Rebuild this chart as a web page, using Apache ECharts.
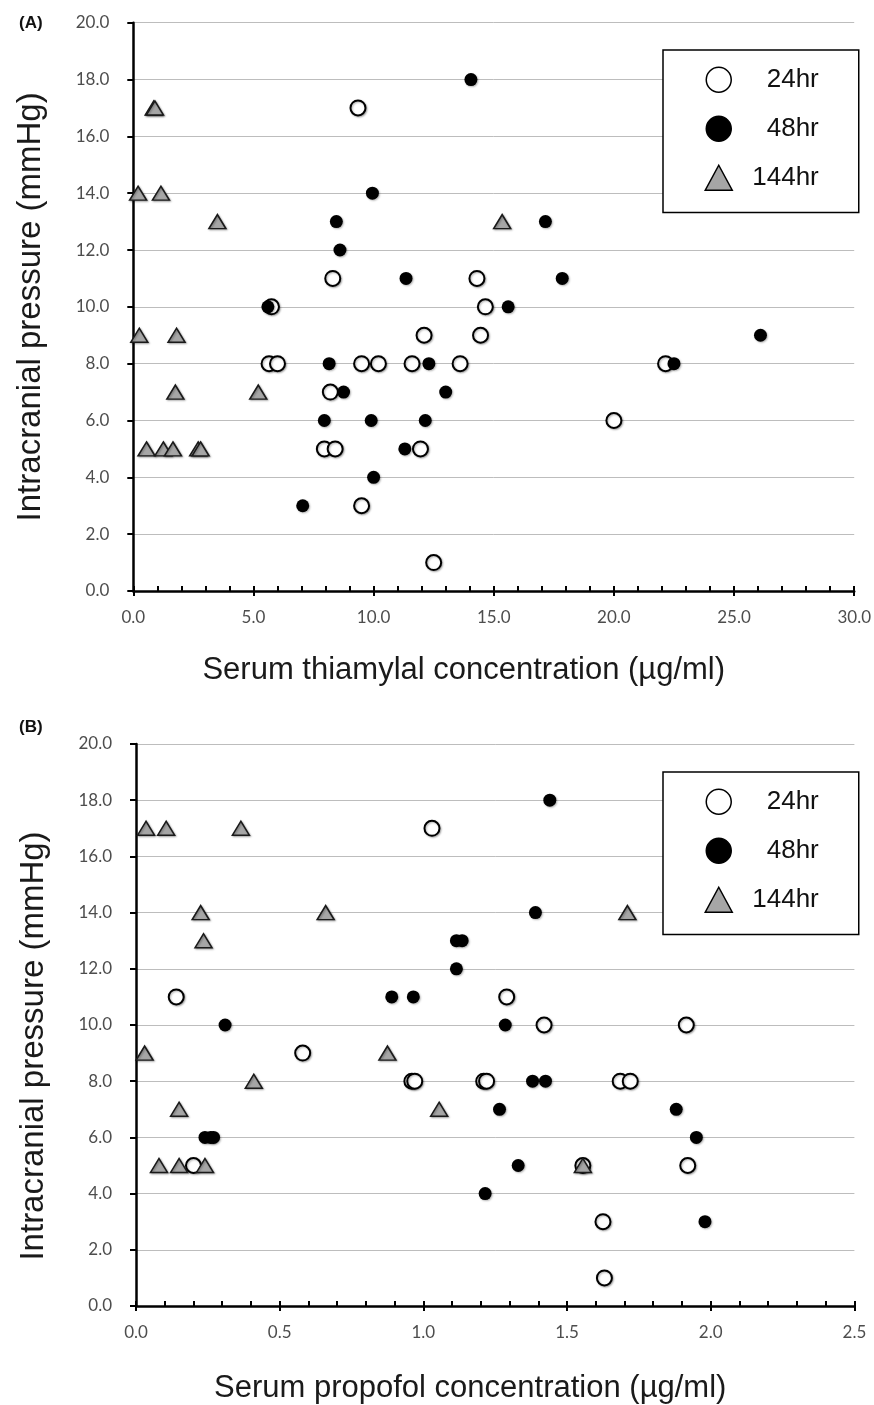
<!DOCTYPE html>
<html>
<head>
<meta charset="utf-8">
<script src="https://cdn.jsdelivr.net/npm/echarts@6/dist/echarts.min.js"></script>
<style>
  html, body { margin: 0; padding: 0; background: #fff; }
  #main { width: 874px; height: 1405px; }
</style>
</head>
<body>
<div id="main"></div>
<script type="text/javascript">
  // (A) thiamylal  [concentration, ICP]
  var thi24 = [[9.35,17],[8.3,11],[14.3,11],[14.65,10],[5.75,10],[12.1,9],[14.45,9],[5.65,8],[6.0,8],[9.5,8],
               [10.2,8],[11.6,8],[13.6,8],[22.15,8],[8.2,7],[20.0,6],[7.95,5],[8.4,5],[11.95,5],[9.5,3],[12.5,1]];
  var thi48 = [[14.05,18],[9.95,14],[8.45,13],[17.15,13],[8.6,12],[11.35,11],[17.85,11],[5.6,10],[15.6,10],[26.1,9],
               [8.15,8],[12.3,8],[22.5,8],[8.75,7],[13.0,7],[7.95,6],[9.9,6],[12.15,6],[11.3,5],[10.0,4],[7.05,3]];
  var thi144 = [[0.85,17],[0.9,17],[0.2,14],[1.15,14],[3.5,13],[15.35,13],[0.25,9],[1.8,9],[1.75,7],[5.2,7],
                [0.55,5],[1.25,5],[1.65,5],[2.7,5],[2.8,5]];

  // (B) propofol
  var pro24 = [[1.03,17],[0.14,11],[1.29,11],[1.42,10],[1.915,10],[0.58,9],[0.96,8],[0.97,8],[1.21,8],[1.22,8],
               [1.685,8],[1.72,8],[0.2,5],[1.555,5],[1.92,5],[1.625,3],[1.63,1]];
  var pro48 = [[1.44,18],[1.39,14],[1.115,13],[1.135,13],[1.115,12],[0.89,11],[0.965,11],[0.31,10],[1.285,10],[1.38,8],
               [1.425,8],[1.265,7],[1.88,7],[0.24,6],[0.26,6],[0.27,6],[1.95,6],[1.33,5],[1.215,4],[1.98,3]];
  var pro144 = [[0.035,17],[0.105,17],[0.365,17],[0.225,14],[0.66,14],[1.71,14],[0.235,13],[0.03,9],[0.875,9],[0.41,8],
                [0.15,7],[1.055,7],[0.08,5],[0.15,5],[0.24,5],[1.555,5]];

  var groups = ['24hr', '48hr', '144hr'];
  var xNames = ['Serum thiamylal concentration (µg/ml)', 'Serum propofol concentration (µg/ml)'];
  var yName = 'Intracranial pressure (mmHg)';

  var sans = '"Liberation Sans", Arial, sans-serif';
  var tickFont = 'Lato, "Open Sans", sans-serif';

  function withShadow(o) {
    o.opacity = 1;
    o.shadowBlur = 2; o.shadowOffsetX = 1; o.shadowOffsetY = 1; o.shadowColor = 'rgba(0,0,0,0.3)';
    return o;
  }

  var styles = {
    '24hr': {symbol: 'circle', symbolSize: 15, itemStyle: withShadow({color: '#fff', borderColor: '#000', borderWidth: 2})},
    '48hr': {symbol: 'circle', symbolSize: 13, itemStyle: withShadow({color: '#000', borderColor: '#000', borderWidth: 0})},
    '144hr': {symbol: 'triangle', symbolSize: [17, 14], itemStyle: withShadow({color: '#a6a6a6', borderColor: '#1a1a1a', borderWidth: 1.5})}
  };

  var grids = [
    {left: 133.3, top: 22.7, width: 725, height: 568.3},
    {left: 136, top: 744, width: 718.4, height: 565}
  ];
  var xRange = [{max: 30, interval: 5}, {max: 2.5, interval: 0.5}];
  var xGap = [64, 67];
  var xShift = [60, 50];   // titles sit a bit left of the plot centre
  var yShift = [0, 42];    // (B) y title sits a bit lower

  var xAxes = [], yAxes = [], series = [], legends = [];
  [0, 1].forEach(function (g) {
    // main x axis: major + minor ticks inside
    xAxes.push({
      gridIndex: g, type: 'value', position: 'bottom', min: 0, max: xRange[g].max, interval: xRange[g].interval,
      name: xNames[g], nameLocation: 'middle', nameGap: xGap[g],
      nameTextStyle: {fontFamily: sans, fontSize: 31, color: '#1a1a1a', padding: [0, xShift[g], 0, 0]},
      axisLine: {lineStyle: {color: '#000', width: 2.5}},
      axisTick: {inside: true, length: 5, lineStyle: {color: '#000', width: 2}},
      minorTick: {show: true, splitNumber: 5, length: 5, lineStyle: {color: '#000', width: 2}},
      axisLabel: {margin: 18, fontFamily: tickFont, fontSize: 17, color: '#4d4d4d',
                  formatter: function (v) { return v.toFixed(1); }},
      splitLine: {show: false}
    });
    // second x axis only for the outward part of the major ticks
    xAxes.push({
      gridIndex: g, type: 'value', position: 'bottom', offset: 0, min: 0, max: xRange[g].max, interval: xRange[g].interval,
      axisLine: {show: false}, axisLabel: {show: false}, splitLine: {show: false},
      axisTick: {inside: false, length: 5, lineStyle: {color: '#000', width: 2}}
    });
    yAxes.push({
      gridIndex: g, type: 'value', min: 0, max: 20, interval: 2,
      name: yName, nameLocation: 'middle', nameGap: 86, nameRotate: 90,
      nameTextStyle: {fontFamily: sans, fontSize: 33, color: '#1a1a1a', padding: [0, yShift[g], 0, 0]},
      axisLine: {show: true, lineStyle: {color: '#000', width: 2.5}},
      axisTick: {show: true, length: 6, lineStyle: {color: '#000', width: 2}},
      axisLabel: {margin: 24, fontFamily: tickFont, fontSize: 17, color: '#4d4d4d',
                  formatter: function (v) { return v.toFixed(1); }},
      splitLine: {show: true, lineStyle: {color: '#bdbdbd', width: 1}}
    });
    var sets = g === 0 ? [thi24, thi48, thi144] : [pro24, pro48, pro144];
    groups.forEach(function (name, i) {
      series.push({
        name: name, type: 'scatter', xAxisIndex: g * 2, yAxisIndex: g,
        symbol: styles[name].symbol, symbolSize: styles[name].symbolSize,
        itemStyle: styles[name].itemStyle, data: sets[i], z: 3 + i
      });
    });
    legends.push({
      orient: 'vertical', left: 663, top: g === 0 ? 50 : 772,
      padding: [16.5, 40, 21.5, 41.5], itemWidth: 27, itemHeight: 25, itemGap: 22.5,
      borderColor: '#000', borderWidth: 1.5, backgroundColor: '#fff', borderRadius: 0,
      selectedMode: false,
      data: groups.map(function (name) {
        return {name: name, icon: styles[name].symbol,
                itemStyle: {color: styles[name].itemStyle.color, borderColor: '#000', borderWidth: 1.5,
                            opacity: 1, shadowBlur: 0, shadowOffsetX: 0, shadowOffsetY: 0}};
      }),
      formatter: '{t|{name}}',
      textStyle: {rich: {t: {width: 81.5, align: 'right', fontFamily: sans, fontSize: 26, lineHeight: 25, color: '#111'}}}
    });
  });

  var myChart = echarts.init(document.getElementById('main'), null, {renderer: 'canvas'});
  myChart.setOption({
    animation: false,
    backgroundColor: '#fff',
    title: [
      {text: '(A)', left: 14, top: 10, textStyle: {fontFamily: sans, fontSize: 17, fontWeight: 'bold', color: '#111'}},
      {text: '(B)', left: 14, top: 714, textStyle: {fontFamily: sans, fontSize: 17, fontWeight: 'bold', color: '#111'}}
    ],
    grid: grids,
    xAxis: xAxes,
    yAxis: yAxes,
    legend: legends,
    series: series
  });
</script>
</body>
</html>
